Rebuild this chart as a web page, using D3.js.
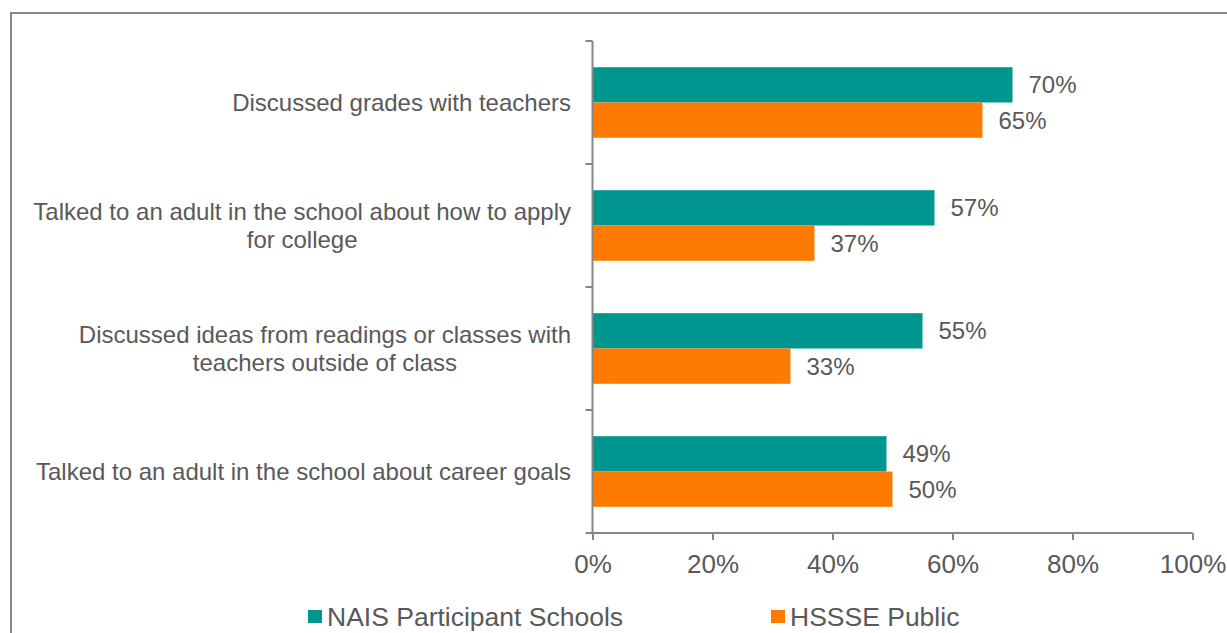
<!DOCTYPE html>
<meta charset="utf-8">
<style>
body { margin: 0; background: #fff; }
text { font-family: "Liberation Sans", Arial, sans-serif; fill: #595959; }
.axis path, .axis line { stroke: #868686; stroke-width: 2; }
</style>
<body>
<script src="https://d3js.org/d3.v7.min.js"></script>
<div id="chart"></div>
<script>

// data
var categories = [
  ["Discussed grades with teachers"],
  ["Talked to an adult in the school about how to apply", "for college"],
  ["Discussed ideas from readings or classes with", "teachers outside of class"],
  ["Talked to an adult in the school about career goals"]
];
var seriesNames = ["NAIS Participant Schools", "HSSSE Public"];
var naisValues = [70, 57, 55, 49];
var publicValues = [65, 37, 33, 50];
var tickValues = [0, 20, 40, 60, 80, 100];
var colors = ["#009690", "#ff7a00"];

var width = 1227, height = 633;

var svg = d3.select("#chart").append("svg")
  .attr("width", width)
  .attr("height", height);

// outer frame
svg.append("rect")
  .attr("x", 11).attr("y", 13)
  .attr("width", 1240).attr("height", 640)
  .attr("fill", "none")
  .attr("stroke", "#898989")
  .attr("stroke-width", 2);

var x = d3.scaleLinear().domain([0, 100]).range([592.5, 1192.5]);
var y = d3.scaleBand().domain(d3.range(categories.length)).range([41, 533]);
var bw = y.bandwidth();
var ySeries = d3.scaleBand().domain([0, 1]).range([bw * 0.213, bw * 0.787]);

var rows = categories.map(function(c, i) {
  return {i: i, label: c, vals: [naisValues[i], publicValues[i]]};
});

var g = svg.append("g");

var groups = g.selectAll(".cat").data(rows).enter().append("g")
  .attr("class", "cat")
  .attr("transform", function(d) { return "translate(0," + y(d.i) + ")"; });

groups.selectAll("rect").data(function(d) { return d.vals; }).enter().append("rect")
  .attr("x", x(0))
  .attr("y", function(d, j) { return ySeries(j); })
  .attr("width", function(d) { return x(d) - x(0); })
  .attr("height", ySeries.bandwidth())
  .attr("fill", function(d, j) { return colors[j]; });

groups.selectAll(".val").data(function(d) { return d.vals; }).enter().append("text")
  .attr("class", "val")
  .attr("x", function(d) { return x(d) + 16; })
  .attr("y", function(d, j) { return ySeries(j) + ySeries.bandwidth() / 2; })
  .attr("dy", "0.35em")
  .style("font-size", "24px")
  .text(function(d) { return d + "%"; });

// category labels
groups.append("text")
  .attr("text-anchor", "middle")
  .style("font-size", "24px")
  .each(function(d) {
    var t = d3.select(this);
    var n = d.label.length;
    d.label.forEach(function(line, k) {
      t.append("tspan")
        .attr("x", 0)
        .attr("y", bw / 2 + (k - (n - 1) / 2) * 28)
        .attr("dy", "0.35em")
        .text(line);
    });
    var w = this.getBBox().width;
    t.attr("transform", "translate(" + (571 - w / 2) + ",0)");
  });

// y axis
var yAxis = svg.append("g").attr("class", "axis")
  .attr("transform", "translate(" + x(0) + ",0)");
yAxis.append("line").attr("x1", 0).attr("x2", 0).attr("y1", 41).attr("y2", 533);
yAxis.selectAll(".tk").data(d3.range(categories.length + 1)).enter().append("line")
  .attr("x1", -7).attr("x2", 0)
  .attr("y1", function(d) { return 41 + d * bw; })
  .attr("y2", function(d) { return 41 + d * bw; });

// x axis
var xAxis = svg.append("g").attr("class", "axis")
  .attr("transform", "translate(0,533)")
  .call(d3.axisBottom(x).tickValues(tickValues).tickSize(7).tickPadding(15)
    .tickFormat(function(d) { return d + "%"; }));
xAxis.select(".domain").attr("d", "M" + x(0) + ",0H" + x(100));
xAxis.selectAll("text").style("font-size", "26px").attr("fill", "#595959");

// legend
var legendX = [308, 771];
var legend = svg.selectAll(".leg").data(seriesNames).enter().append("g")
  .attr("transform", function(d, i) { return "translate(" + legendX[i] + ",610)"; });
legend.append("rect").attr("width", 14).attr("height", 13)
  .attr("fill", function(d, i) { return colors[i]; });
legend.append("text")
  .attr("x", 19).attr("y", 7).attr("dy", "0.35em")
  .style("font-size", "26.5px")
  .text(function(d) { return d; });

</script>
</body>
